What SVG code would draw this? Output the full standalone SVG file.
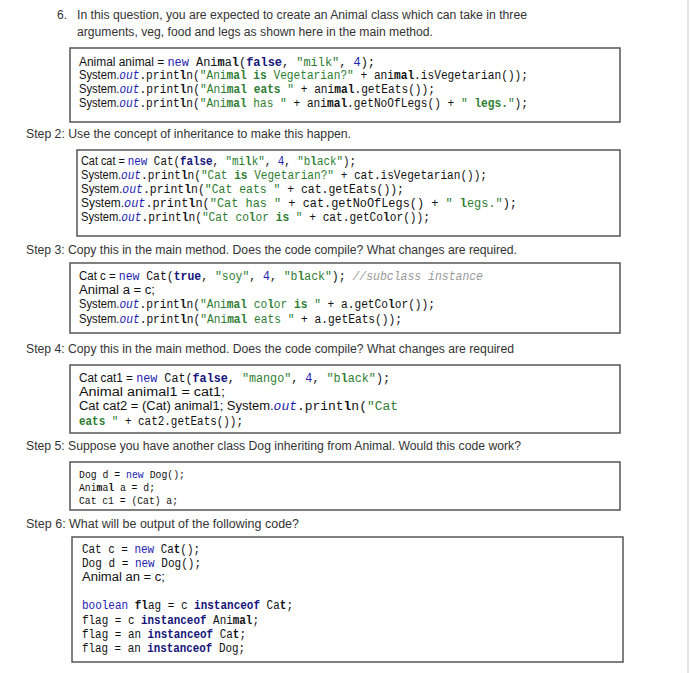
<svg xmlns="http://www.w3.org/2000/svg" width="691" height="673" viewBox="0 0 691 673">
<style>
.p{font-family:"Liberation Sans",Arial,sans-serif;font-size:12px;fill:#333}
.c{font-family:"Liberation Mono","DejaVu Sans Mono",monospace;font-size:12.5px;fill:#111}
.a{font-family:"Liberation Sans",Arial,sans-serif}
.s{fill:#2e7d32}
.k{fill:#14147a;font-weight:bold}
.n{fill:#2323b0}
.o{fill:#2323b0;font-style:italic}
.b{font-weight:bold}
.cm{fill:#999;font-style:italic}
.box{fill:#fff;stroke:#555;stroke-width:1.5}
</style>
<rect width="691" height="673" fill="#fff"/>
<line x1="688" y1="0" x2="688" y2="673" stroke="#ccc" stroke-width="1"/>
<g id="intro">
<text class="p" x="57" y="19">6.</text>
<text class="p" x="77" y="19" textLength="450" lengthAdjust="spacingAndGlyphs">In this question, you are expected to create an Animal class which can take in three</text>
<text class="p" x="77" y="36" textLength="356" lengthAdjust="spacingAndGlyphs">arguments, veg, food and legs as shown here in the main method.</text>
</g>
<g id="box1">
<rect class="box" x="70" y="48" width="550" height="74"/>
<text class="c" x="79" y="66" textLength="296" lengthAdjust="spacingAndGlyphs"><tspan class="a">Animal animal = </tspan><tspan class="n">new</tspan> Ani<tspan class="b">m</tspan>a<tspan class="b">l</tspan>(<tspan class="k">false</tspan>, <tspan class="s">"milk"</tspan>, <tspan class="n">4</tspan>);</text>
<text class="c" x="79" y="79" textLength="449" lengthAdjust="spacingAndGlyphs"><tspan class="a">System.</tspan><tspan class="o">out</tspan>.print<tspan class="b">l</tspan>n(<tspan class="s">"Ani<tspan class="b">mal is</tspan> Vegetarian?"</tspan> + ani<tspan class="b">mal</tspan>.isVegetarian());</text>
<text class="c" x="79" y="93" textLength="356" lengthAdjust="spacingAndGlyphs"><tspan class="a">System.</tspan><tspan class="o">out</tspan>.print<tspan class="b">l</tspan>n(<tspan class="s">"Ani<tspan class="b">mal eats</tspan> "</tspan> + ani<tspan class="b">mal</tspan>.getEats());</text>
<text class="c" x="79" y="107" textLength="449" lengthAdjust="spacingAndGlyphs"><tspan class="a">System.</tspan><tspan class="o">out</tspan>.print<tspan class="b">l</tspan>n(<tspan class="s">"Ani<tspan class="b">mal</tspan> has "</tspan> + ani<tspan class="b">mal</tspan>.getNoOfLegs() + <tspan class="s">" <tspan class="b">legs.</tspan>"</tspan>);</text>
</g>
<g id="step2">
<text class="p" x="26" y="138" textLength="325" lengthAdjust="spacingAndGlyphs">Step 2: Use the concept of inheritance to make this happen.</text>
<rect class="box" x="77" y="150" width="543" height="86"/>
<text class="c" x="81" y="165" textLength="275" lengthAdjust="spacingAndGlyphs"><tspan class="a">Cat cat = </tspan><tspan class="n">new</tspan> Cat(<tspan class="k">false</tspan>, <tspan class="s">"mi<tspan class="b">l</tspan>k"</tspan>, <tspan class="n">4</tspan>, <tspan class="s">"b<tspan class="b">l</tspan>ack"</tspan>);</text>
<text class="c" x="81" y="179" textLength="406" lengthAdjust="spacingAndGlyphs"><tspan class="a">System.</tspan><tspan class="o">out</tspan>.print<tspan class="b">l</tspan>n(<tspan class="s">"Cat <tspan class="b">is</tspan> Vegetarian?"</tspan> + cat.isVegetarian());</text>
<text class="c" x="81" y="193" textLength="323" lengthAdjust="spacingAndGlyphs"><tspan class="a">System.</tspan><tspan class="o">out</tspan>.print<tspan class="b">l</tspan>n(<tspan class="s">"Cat eats "</tspan> + cat.getEats());</text>
<text class="c" x="81" y="207" textLength="436" lengthAdjust="spacingAndGlyphs"><tspan class="a">System.</tspan><tspan class="o">out</tspan>.print<tspan class="b">l</tspan>n(<tspan class="s">"Cat has "</tspan> + cat.getNoOfLegs() + <tspan class="s">" <tspan class="b">l</tspan>egs."</tspan>);</text>
<text class="c" x="81" y="221" textLength="349" lengthAdjust="spacingAndGlyphs"><tspan class="a">System.</tspan><tspan class="o">out</tspan>.print<tspan class="b">l</tspan>n(<tspan class="s">"Cat co<tspan class="b">l</tspan>or <tspan class="b">is</tspan> "</tspan> + cat.getCo<tspan class="b">l</tspan>or());</text>
</g>
<g id="step3">
<text class="p" x="26" y="254" textLength="491" lengthAdjust="spacingAndGlyphs">Step 3: Copy this in the main method. Does the code compile? What changes are required.</text>
<rect class="box" x="70" y="263" width="550" height="70"/>
<text class="c" x="79" y="280" textLength="404" lengthAdjust="spacingAndGlyphs"><tspan class="a">Cat c = </tspan><tspan class="n">new</tspan> Cat(<tspan class="k">true</tspan>, <tspan class="s">"soy"</tspan>, <tspan class="n">4</tspan>, <tspan class="s">"b<tspan class="b">l</tspan>ack"</tspan>); <tspan class="cm">//subclass instance</tspan></text>
<text class="c" x="79" y="294" textLength="76" lengthAdjust="spacingAndGlyphs"><tspan class="a">Animal a = c;</tspan></text>
<text class="c" x="79" y="308" textLength="356" lengthAdjust="spacingAndGlyphs"><tspan class="a">System.</tspan><tspan class="o">out</tspan>.print<tspan class="b">l</tspan>n(<tspan class="s">"Ani<tspan class="b">mal</tspan> co<tspan class="b">l</tspan>or <tspan class="b">is</tspan> "</tspan> + a.getCo<tspan class="b">l</tspan>or());</text>
<text class="c" x="79" y="323" textLength="323" lengthAdjust="spacingAndGlyphs"><tspan class="a">System.</tspan><tspan class="o">out</tspan>.print<tspan class="b">l</tspan>n(<tspan class="s">"Ani<tspan class="b">mal</tspan> eats "</tspan> + a.getEats());</text>
</g>
<g id="step4">
<text class="p" x="26" y="353" textLength="488" lengthAdjust="spacingAndGlyphs">Step 4: Copy this in the main method. Does the code compile? What changes are required</text>
<rect class="box" x="70" y="365" width="550" height="68"/>
<text class="c" x="79" y="382" textLength="311" lengthAdjust="spacingAndGlyphs"><tspan class="a">Cat cat1 = </tspan><tspan class="n">new</tspan> Cat(<tspan class="k">false</tspan>, <tspan class="s">"mango"</tspan>, <tspan class="n">4</tspan>, <tspan class="s">"b<tspan class="b">l</tspan>ack"</tspan>);</text>
<text class="c" x="79" y="396" textLength="146" lengthAdjust="spacingAndGlyphs"><tspan class="a">Animal animal1 = cat1;</tspan></text>
<text class="c" x="79" y="410" textLength="319" lengthAdjust="spacingAndGlyphs"><tspan class="a">Cat cat2 = (Cat) animal1; System.</tspan><tspan class="o">out</tspan>.print<tspan class="b">l</tspan>n(<tspan class="s">"Cat</tspan></text>
<text class="c" x="79" y="425" textLength="164" lengthAdjust="spacingAndGlyphs"><tspan class="s b">eats</tspan><tspan class="s"> "</tspan> + cat2.getEats());</text>
</g>
<g id="step5">
<text class="p" x="26" y="450" textLength="495" lengthAdjust="spacingAndGlyphs">Step 5: Suppose you have another class Dog inheriting from Animal. Would this code work?</text>
<rect class="box" x="70" y="462" width="550" height="48"/>
<text class="c" x="79" y="478" style="font-size:11px" textLength="106" lengthAdjust="spacingAndGlyphs">Dog d = <tspan class="n">new</tspan> Dog();</text>
<text class="c" x="79" y="491" style="font-size:11px" textLength="76" lengthAdjust="spacingAndGlyphs">Ani<tspan class="b">m</tspan>a<tspan class="b">l</tspan> a = d;</text>
<text class="c" x="79" y="504" style="font-size:11px" textLength="99" lengthAdjust="spacingAndGlyphs">Cat c1 = (Cat) a;</text>
</g>
<g id="step6">
<text class="p" x="26" y="528" textLength="273" lengthAdjust="spacingAndGlyphs">Step 6: What will be output of the following code?</text>
<rect class="box" x="72" y="537" width="551" height="125"/>
<text class="c" x="82" y="553" textLength="118" lengthAdjust="spacingAndGlyphs">Cat c = <tspan class="n">new</tspan> Ca<tspan class="b">t</tspan>();</text>
<text class="c" x="82" y="567" textLength="119" lengthAdjust="spacingAndGlyphs">Dog d = <tspan class="n">new</tspan> Dog();</text>
<text class="c" x="82" y="581" textLength="83" lengthAdjust="spacingAndGlyphs"><tspan class="a">Animal an = c;</tspan></text>
<text class="c" x="82" y="609" textLength="211" lengthAdjust="spacingAndGlyphs"><tspan class="n">boolean</tspan> <tspan class="b">fl</tspan>ag = c <tspan class="k">instanceof</tspan> Ca<tspan class="b">t</tspan>;</text>
<text class="c" x="82" y="624" textLength="177" lengthAdjust="spacingAndGlyphs">flag = c <tspan class="k">instanceof</tspan> Ani<tspan class="b">mal</tspan>;</text>
<text class="c" x="82" y="638" textLength="164" lengthAdjust="spacingAndGlyphs">flag = an <tspan class="k">instanceof</tspan> Ca<tspan class="b">t</tspan>;</text>
<text class="c" x="82" y="652" textLength="163" lengthAdjust="spacingAndGlyphs">flag = an <tspan class="k">instanceof</tspan> Dog;</text>
</g>
</svg>
